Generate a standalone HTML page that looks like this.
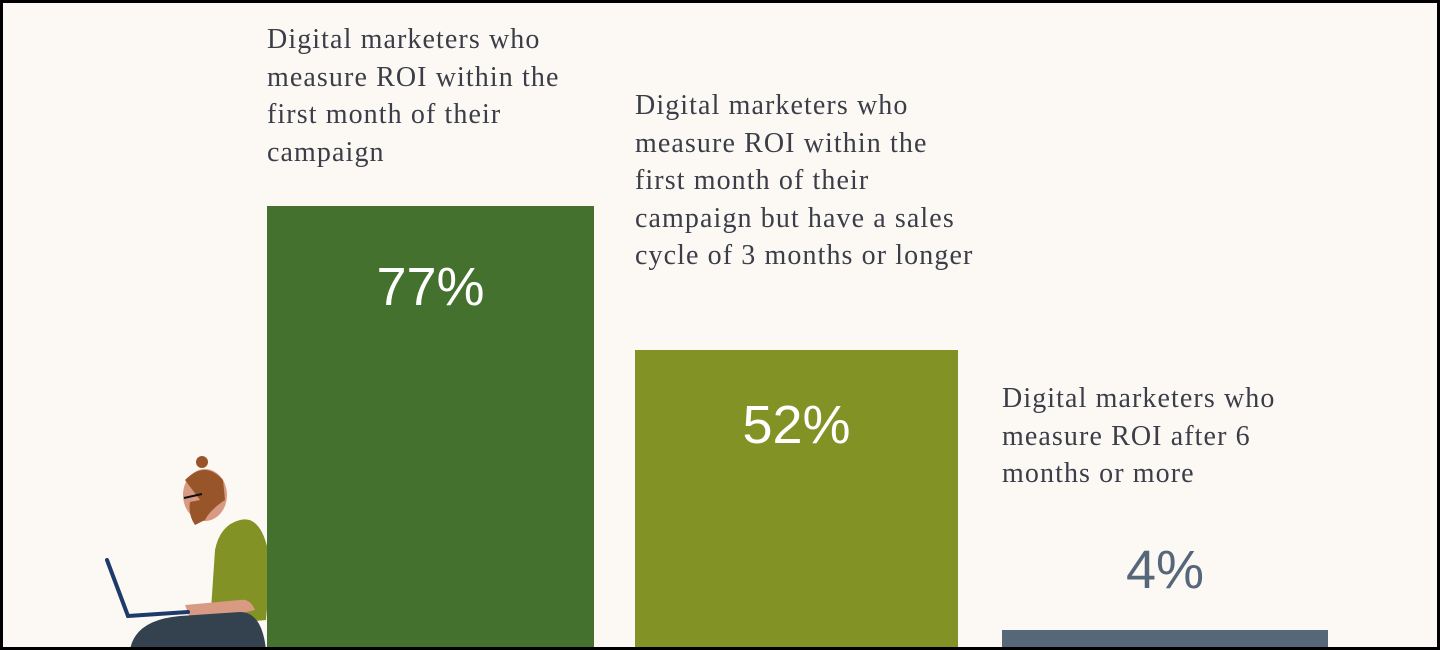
<!DOCTYPE html>
<html><head><style>
html,body{margin:0;padding:0}
body{width:1440px;height:650px;position:relative;overflow:hidden;background:#fcf9f5;font-family:"Liberation Serif",serif}
.frame{position:absolute;left:0;top:0;width:1434px;height:644px;border:3px solid #000}
.t{position:absolute;color:#3b3e48;font-size:28px;line-height:37.5px;white-space:nowrap;letter-spacing:1.1px}
.bar{position:absolute;bottom:3px}
.p{position:absolute;font-family:"Liberation Sans",sans-serif;font-size:54px;color:#fff;text-align:center;line-height:60px}
</style></head><body>
<div class="t" style="left:267px;top:21px">Digital marketers who<br>measure ROI within the<br>first month of their<br>campaign</div>
<div class="t" style="left:635px;top:87px">Digital marketers who<br>measure ROI within the<br>first month of their<br>campaign but have a sales<br>cycle of 3 months or longer</div>
<div class="t" style="left:1002px;top:380px">Digital marketers who<br>measure ROI after 6<br>months or more</div>
<svg style="position:absolute;left:90px;top:440px" width="200" height="210">
<path d="M150 80 Q170 75 178 110 Q180 140 176 180 L120 185 L125 110 Q130 85 150 80Z" fill="#829224"/>
<path d="M95 165 L150 160 Q160 158 165 170 L140 176 L100 178Z" fill="#d99a83"/>
<path d="M40 210 Q45 180 90 176 L150 172 Q172 172 176 210Z" fill="#34414f"/>
<line x1="17" y1="120" x2="38" y2="176" stroke="#1e3a6a" stroke-width="4" stroke-linecap="round"/>
<line x1="38" y1="176" x2="98" y2="172" stroke="#1e3a6a" stroke-width="4" stroke-linecap="round"/>
<ellipse cx="115" cy="55" rx="22" ry="26" fill="#d99a83"/>
<path d="M95 40 Q115 20 133 40 L135 60 Q120 70 115 80 L105 85 Q98 75 100 62 L110 60Z" fill="#99552a"/>
<circle cx="112" cy="22" r="6" fill="#99552a"/>
<line x1="94" y1="58" x2="112" y2="54" stroke="#111" stroke-width="2"/>
</svg>
<div class="bar" style="left:267px;width:327px;top:206px;background:#45712f"></div>
<div class="bar" style="left:635px;width:323px;top:350px;background:#829224"></div>
<div class="bar" style="left:1002px;width:326px;top:630px;background:#56677a"></div>
<div class="p" style="left:267px;width:327px;top:257px">77%</div>
<div class="p" style="left:635px;width:323px;top:395px">52%</div>
<div class="p" style="left:1002px;width:326px;top:540px;color:#56677a">4%</div>
<div class="frame"></div>
</body></html>
